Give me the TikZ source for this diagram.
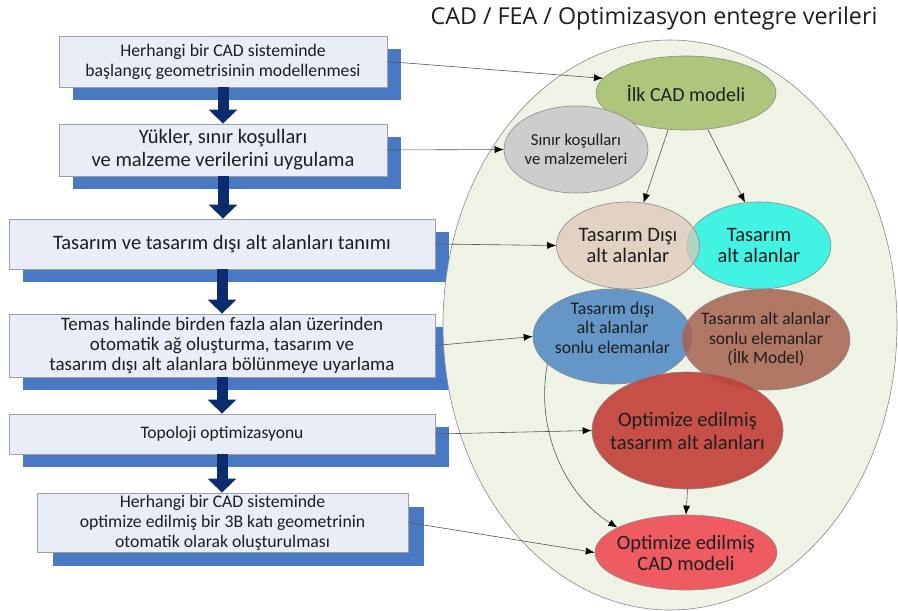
\documentclass[tikz,border=0pt]{standalone}
\usepackage{fontspec}
\setmainfont{Carlito}
\newfontfamily\titlefont{Open Sans}
\usetikzlibrary{shapes.geometric,arrows.meta,shadows}

\definecolor{boxfill}{HTML}{E8EDF7}
\definecolor{boxdraw}{HTML}{A0A0A0}
\definecolor{shadowblue}{HTML}{4A79C3}
\definecolor{navy}{HTML}{0C2C6E}
\definecolor{bigfill}{HTML}{EEF3E5}
\definecolor{ellborder}{HTML}{8A8A8A}
\definecolor{cgreen}{HTML}{AEC67B}
\definecolor{cgray}{HTML}{CDCDCD}
\definecolor{cbeige}{HTML}{DCC5B7}
\definecolor{ccyan}{HTML}{42F2E3}
\definecolor{cblue}{HTML}{6496C8}
\definecolor{cbrown}{HTML}{A6624F}
\definecolor{cred}{HTML}{C3433A}
\definecolor{cpink}{HTML}{EE5C62}
\definecolor{linec}{HTML}{555555}
\definecolor{txt}{HTML}{1E1E1E}

\begin{document}
\begin{tikzpicture}[x=1pt,y=-1pt,
  flowbox/.style={draw=boxdraw, line width=0.8pt, fill=boxfill, rectangle, inner sep=0pt, align=center, text=txt,
     copy shadow={shadow xshift=14pt, shadow yshift=-13pt, fill=shadowblue, draw=none}},
  flowboxb/.style={draw=boxdraw, line width=0.8pt, fill=boxfill, rectangle, inner sep=0pt, align=center, text=txt,
     copy shadow={shadow xshift=16pt, shadow yshift=-14pt, fill=shadowblue, draw=none}},
  ell/.style={ellipse, draw=ellborder, line width=0.6pt, inner xsep=-25pt, inner ysep=-12pt, align=center, text=txt, text opacity=1},
  conn/.style={draw=linec, line width=0.6pt, -{Latex[length=9pt,width=7pt,color=black]}},
  bigarrow/.style={draw=navy, line width=11pt, -{Triangle[width=28pt,length=14pt]}},
  fs/.style 2 args={font=\fontsize{#1}{#2}\selectfont}
  ]
\fill[white] (0,0) rectangle (898,611);
\useasboundingbox (0,0) rectangle (898,611);

% title
\node[font=\titlefont\fontsize{23.3}{28}\selectfont, text=txt] (title) at (654,18) {CAD / FEA / Optimizasyon entegre verileri};

% flow boxes
\node[flowbox, fs={17.7}{20}, minimum width=328pt, minimum height=51pt] (b1) at (223,61.5)
  {Herhangi bir CAD sisteminde\\başlangıç geometrisinin modellenmesi};
\node[flowbox, fs={20.5}{23}, minimum width=328pt, minimum height=52pt] (b2) at (223,150)
  {Yükler, sınır koşulları\\ve malzeme verilerini uygulama};
\node[flowbox, fs={20.5}{23}, minimum width=426pt, minimum height=50pt] (b3) at (222,244)
  {Tasarım ve tasarım dışı alt alanları tanımı};
\node[flowbox, fs={19}{20}, minimum width=426pt, minimum height=63pt] (b4) at (222,345.5)
  {Temas halinde birden fazla alan üzerinden\\otomatik ağ oluşturma, tasarım ve\\tasarım dışı alt alanlara bölünmeye uyarlama};
\node[flowbox, fs={17.5}{20}, minimum width=426pt, minimum height=40pt] (b5) at (222,434)
  {Topoloji optimizasyonu};
\node[flowboxb, fs={17.7}{20}, minimum width=371pt, minimum height=59pt] (b6) at (222.5,522.5)
  {Herhangi bir CAD sisteminde\\optimize edilmiş bir 3B katı geometrinin\\otomatik olarak oluşturulması};

% big navy arrows
\draw[bigarrow] (b1.south) -- (b1.south |- b2.north);
\draw[bigarrow] (b2.south) -- (b2.south |- b3.north);
\draw[bigarrow] (b3.south) -- (b3.south |- b4.north);
\draw[bigarrow] (b4.south) -- (b4.south |- b5.north);
\draw[bigarrow] (b5.south) -- (b5.south |- b6.north);

% big container ellipse
\node[ellipse, draw=ellborder, line width=0.6pt, fill=bigfill, minimum width=454pt, minimum height=570pt, inner sep=0pt] (big) at (670,325) {};

% inner ellipses
\node[ell, fill=cgreen, fs={20}{22}, minimum width=180pt, minimum height=74pt] (ilk) at (686,93) {İlk CAD modeli};
\node[ell, fill=cgray, fs={16.7}{19.5}, minimum width=144pt, minimum height=87pt] (sinir) at (576,149.5) {Sınır koşulları\\ve malzemeleri};
\node[ell, fill=ccyan, fs={20.5}{21.5}, minimum width=144pt, minimum height=87pt] (tas) at (759,245.5) {Tasarım\\alt alanlar};
\node[ell, fill=cbeige, fill opacity=0.7, fs={20.5}{21.5}, minimum width=143pt, minimum height=87pt] (disi) at (628,245.5) {Tasarım Dışı\\alt alanlar};
\node[ell, fill=cblue, fs={17.7}{19.5}, minimum width=159pt, minimum height=95pt] (blue) at (612.5,336.5) {Tasarım dışı\\alt alanlar\\sonlu elemanlar\\[-2pt]};
\node[ell, fill=cbrown, fill opacity=0.85, fs={17.5}{19.5}, minimum width=168pt, minimum height=101pt] (brown) at (766,339.5) {Tasarım alt alanlar\\sonlu elemanlar\\(İlk Model)};
\node[ell, fill=cred, fill opacity=0.92, fs={20.5}{23}, minimum width=191pt, minimum height=117pt] (red) at (687.5,430.5) {Optimize edilmiş\\tasarım alt alanları};
\node[ell, fill=cpink, fs={20.4}{21}, minimum width=182pt, minimum height=75pt] (optcad) at (686,552.5) {Optimize edilmiş\\CAD modeli};

% connectors
\draw[conn] (b1.east) -- (ilk.170);
\draw[conn] (b2.east) -- (sinir.west);
\draw[conn] (b3.east) -- (disi.west);
\draw[conn] (b4.east) -- (blue.west);
\draw[conn] (b5.east) -- (red.west);
\draw[conn] (b6.east) -- (optcad.west);
\draw[conn] (ilk.244) -- (disi.70);
\draw[conn] (ilk.301) -- (tas.108);
\draw[conn] (red.south) -- (optcad.north);
\draw[conn] (blue.203) .. controls (535,430) and (565,495) .. (optcad.160);
\end{tikzpicture}
\end{document}
